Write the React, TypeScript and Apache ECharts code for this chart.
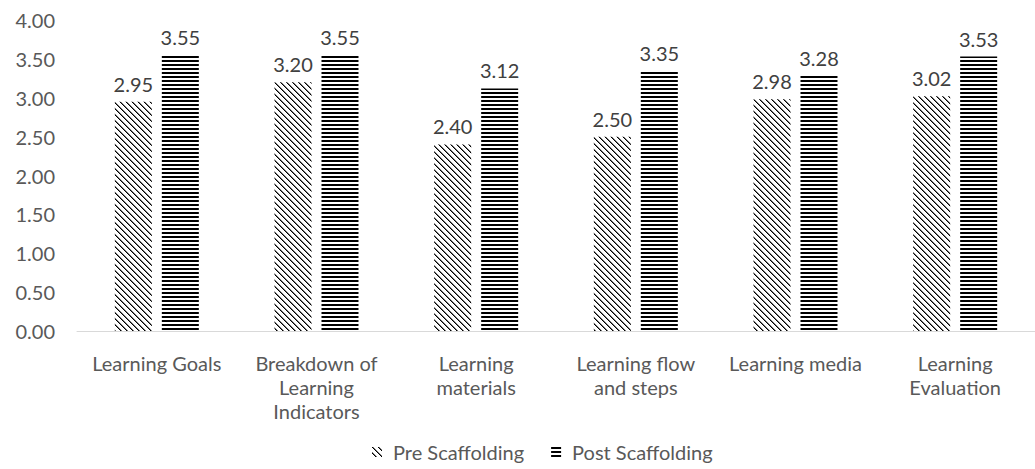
import React, { useEffect, useRef } from "react";
import * as echarts from "echarts";

const categories = [
  "Learning Goals",
  "Breakdown of\nLearning\nIndicators",
  "Learning\nmaterials",
  "Learning flow\nand steps",
  "Learning media",
  "Learning\nEvaluation",
];
const preScaffolding = [2.95, 3.2, 2.4, 2.5, 2.98, 3.02];
const postScaffolding = [3.55, 3.55, 3.12, 3.35, 3.28, 3.53];
const seriesNames = ["Pre Scaffolding", "Post Scaffolding"];

function makeDiagonal(): string {
  const n = 6;
  const c = document.createElement("canvas");
  c.width = n;
  c.height = n;
  const ctx = c.getContext("2d")!;
  ctx.fillStyle = "#ffffff";
  ctx.fillRect(0, 0, n, n);
  for (let y = 0; y < n; y++) {
    for (let x = 0; x < n; x++) {
      const d = (x - y + 2 * n) % n;
      if (d === 0) {
        ctx.fillStyle = "#000000";
        ctx.fillRect(x, y, 1, 1);
      } else if (d === 1) {
        ctx.fillStyle = "#777777";
        ctx.fillRect(x, y, 1, 1);
      }
    }
  }
  return c.toDataURL();
}

function makeHorizontal(): string {
  const c = document.createElement("canvas");
  c.width = 4;
  c.height = 4;
  const ctx = c.getContext("2d")!;
  ctx.fillStyle = "#ffffff";
  ctx.fillRect(0, 0, 4, 4);
  ctx.fillStyle = "#000000";
  ctx.fillRect(0, 0, 4, 2);
  return c.toDataURL();
}

export default function App() {
  const ref = useRef<HTMLDivElement>(null);
  useEffect(() => {
    if (!ref.current) return;
    const chart = echarts.init(ref.current, undefined, { renderer: "svg" });
    const diag = { image: makeDiagonal(), repeat: "repeat" };
    const horiz = { image: makeHorizontal(), repeat: "repeat" };
    const font = "Lato, Calibri, 'Open Sans', sans-serif";
    const label = {
      show: true,
      position: "top",
      distance: 8,
      color: "#404040",
      fontSize: 20,
      fontFamily: font,
      formatter: (p: any) => Number(p.value).toFixed(2),
    };
    chart.setOption({
      animation: false,
      textStyle: { fontFamily: font },
      grid: { left: 77, top: 20, width: 968, height: 311, containLabel: false },
      legend: {
        data: seriesNames,
        top: 442,
        left: 372,
        padding: 0,
        itemWidth: 10,
        itemHeight: 10,
        itemGap: 27,
        icon: "rect",
        textStyle: { color: "#595959", fontSize: 20, fontFamily: font, padding: [0, 0, 0, 6] },
      },
      xAxis: {
        type: "category",
        data: categories,
        axisLine: { lineStyle: { color: "#d9d9d9", width: 1 } },
        axisTick: { show: false },
        axisLabel: {
          color: "#595959",
          fontSize: 20,
          fontFamily: font,
          margin: 20,
          lineHeight: 24,
          interval: 0,
        },
      },
      yAxis: {
        type: "value",
        min: 0,
        max: 4,
        interval: 0.5,
        splitLine: { show: false },
        axisLine: { show: false },
        axisTick: { show: false },
        axisLabel: {
          color: "#595959",
          fontSize: 20,
          fontFamily: font,
          margin: 22,
          formatter: (v: number) => v.toFixed(2),
        },
      },
      series: [
        {
          name: seriesNames[0],
          type: "bar",
          data: preScaffolding,
          barWidth: 37,
          barGap: "27%",
          itemStyle: { color: diag },
          label,
        },
        {
          name: seriesNames[1],
          type: "bar",
          data: postScaffolding,
          barWidth: 37,
          barGap: "27%",
          itemStyle: { color: horiz },
          label,
        },
      ],
    });
    return () => chart.dispose();
  }, []);
  return (
    <div
      ref={ref}
      style={{ position: "absolute", left: 0, top: 0, width: 1035, height: 469 }}
    />
  );
}
